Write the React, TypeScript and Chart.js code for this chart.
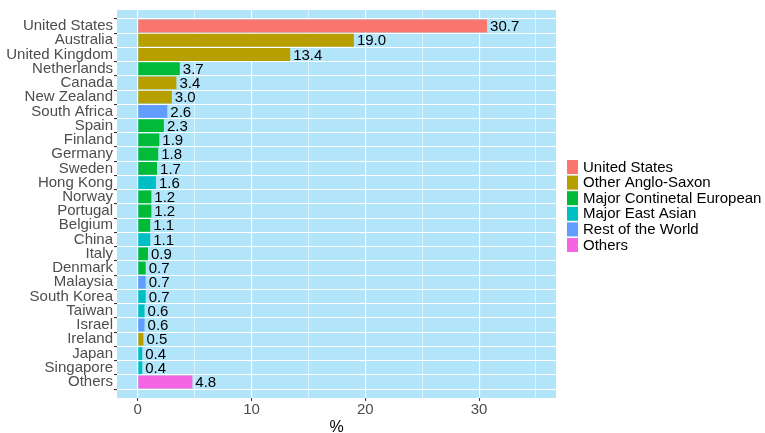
import React, { useEffect, useRef } from 'react';
import { Chart, registerables } from 'chart.js';
Chart.register(...registerables);

const countries = [
  'United States', 'Australia', 'United Kingdom', 'Netherlands', 'Canada', 'New Zealand',
  'South Africa', 'Spain', 'Finland', 'Germany', 'Sweden', 'Hong Kong', 'Norway', 'Portugal',
  'Belgium', 'China', 'Italy', 'Denmark', 'Malaysia', 'South Korea', 'Taiwan', 'Israel',
  'Ireland', 'Japan', 'Singapore', 'Others',
];
const shares = [
  30.7, 19.0, 13.4, 3.7, 3.4, 3.0, 2.6, 2.3, 1.9, 1.8, 1.7, 1.6, 1.2, 1.2, 1.1, 1.1, 0.9,
  0.7, 0.7, 0.7, 0.6, 0.6, 0.5, 0.4, 0.4, 4.8,
];
const groupNames = [
  'United States', 'Other Anglo-Saxon', 'Major Continetal European', 'Major East Asian',
  'Rest of the World', 'Others',
];
const groupColors = ['#F8766D', '#B79F00', '#00BA38', '#00BFC4', '#619CFF', '#F564E3'];
// group index per country
const countryGroup = [
  0, 1, 1, 2, 1, 1, 4, 2, 2, 2, 2, 3, 2, 2, 2, 3, 2, 2, 4, 3, 3, 4, 1, 3, 3, 5,
];
const xTicks = [0, 5, 10, 15, 20, 25, 30, 35];

const FONT = "'Liberation Sans', Arial, sans-serif";

export default function App() {
  const ref = useRef<HTMLCanvasElement>(null);
  useEffect(() => {
    document.body.style.margin = '0';
    const panelBg = {
      id: 'panelBg',
      beforeDraw(chart: any) {
        const { ctx, chartArea: a } = chart;
        ctx.save();
        ctx.fillStyle = '#B3E5FA';
        ctx.fillRect(a.left, a.top, a.right - a.left, a.bottom - a.top);
        ctx.restore();
      },
    };
    const valueLabels = {
      id: 'valueLabels',
      afterDatasetsDraw(chart: any) {
        const { ctx } = chart;
        const meta = chart.getDatasetMeta(0);
        ctx.save();
        ctx.font = `15px ${FONT}`;
        ctx.fillStyle = '#000';
        ctx.textAlign = 'left';
        ctx.textBaseline = 'middle';
        meta.data.forEach((bar: any, i: number) => {
          ctx.fillText(shares[i].toFixed(1), bar.x + 3, bar.y + 1);
        });
        ctx.restore();
      },
    };
    const sideLegend = {
      id: 'sideLegend',
      afterDraw(chart: any) {
        const { ctx } = chart;
        ctx.save();
        ctx.font = `15px ${FONT}`;
        ctx.textAlign = 'left';
        ctx.textBaseline = 'middle';
        const x0 = 567;
        const y0 = 160;
        const pitch = 15.6;
        groupNames.forEach((name, i) => {
          const y = y0 + i * pitch;
          ctx.fillStyle = groupColors[i];
          ctx.fillRect(x0, y, 11, 14);
          ctx.fillStyle = '#000';
          ctx.fillText(name, x0 + 16, y + 7.5);
        });
        ctx.restore();
      },
    };

    const chart = new Chart(ref.current!, {
      type: 'bar',
      data: {
        datasets: [
          {
            data: shares.map((v, i) => ({ x: v, y: i })) as any,
            backgroundColor: countryGroup.map((g) => groupColors[g]),
            barPercentage: 0.9,
            categoryPercentage: 1,
            borderWidth: 0,
          },
        ],
      },
      options: {
        indexAxis: 'y',
        responsive: false,
        animation: false,
        devicePixelRatio: 1,
        layout: { padding: { top: 10, right: 209, bottom: 0, left: 0 } },
        plugins: { legend: { display: false }, tooltip: { enabled: false } },
        scales: {
          x: {
            type: 'linear',
            min: -1.82,
            max: 36.76,
            afterBuildTicks: (s: any) => {
              s.ticks = xTicks.map((v) => ({ value: v }));
            },
            afterFit: (s: any) => {
              s.height = 35;
            },
            border: { display: false },
            grid: {
              color: '#ffffff',
              lineWidth: (c: any) => (c.tick && c.tick.value % 10 === 0 ? 1.1 : 0.55),
              tickColor: (c: any) => (c.tick && c.tick.value % 10 === 0 ? '#333333' : 'rgba(0,0,0,0)'),
              tickLength: 3,
              tickWidth: 1,
            },
            ticks: {
              callback: (v: any) => (Number(v) % 10 === 0 ? String(v) : ''),
              color: '#4D4D4D',
              font: { family: FONT, size: 15 },
              padding: 0,
              maxRotation: 0,
              autoSkip: false,
            },
            title: {
              display: true,
              text: '%',
              color: '#000',
              font: { family: FONT, size: 16 },
              padding: { top: 0, bottom: -4 },
            },
          },
          y: {
            type: 'linear',
            reverse: true,
            min: -0.6,
            max: countries.length - 0.4,
            afterBuildTicks: (s: any) => {
              s.ticks = countries.map((_, i) => ({ value: i }));
            },
            afterFit: (s: any) => {
              s.width = 117;
            },
            border: { display: false },
            grid: {
              color: '#ffffff',
              lineWidth: 1.1,
              tickColor: '#333333',
              tickLength: 3,
            },
            ticks: {
              callback: (v: any) => countries[Number(v)] ?? '',
              color: '#4D4D4D',
              font: { family: FONT, size: 15 },
              padding: 1,
              autoSkip: false,
            },
          },
        },
      },
      plugins: [panelBg, valueLabels, sideLegend],
    } as any);
    return () => chart.destroy();
  }, []);
  return (
    <div style={{ width: 765, height: 433, background: '#fff' }}>
      <canvas ref={ref} width={765} height={433} style={{ display: 'block' }} />
    </div>
  );
}
